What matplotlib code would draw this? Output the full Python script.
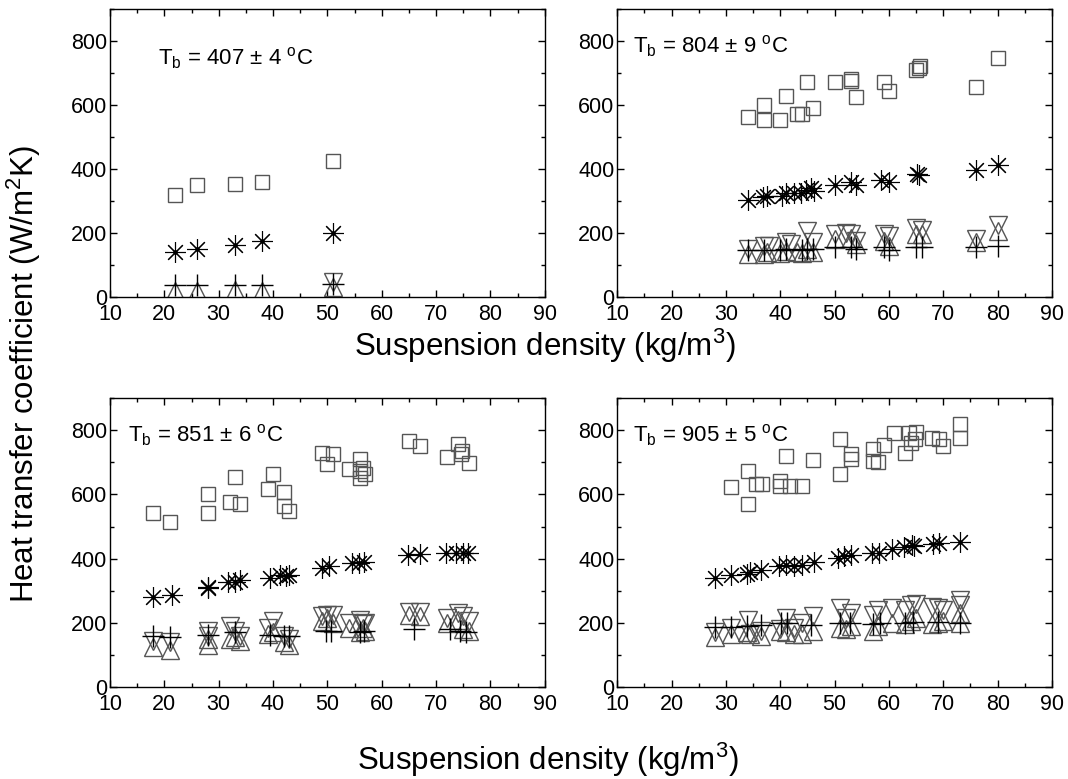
import matplotlib
matplotlib.use("Agg")
import matplotlib.pyplot as plt
from matplotlib.ticker import MultipleLocator

plt.rcParams["font.family"] = ["Liberation Sans", "DejaVu Sans"]
plt.rcParams["mathtext.fontset"] = "custom"
plt.rcParams["mathtext.rm"] = "Liberation Sans"
plt.rcParams["mathtext.it"] = "Liberation Sans:italic"

GRAY = "#555555"

# ---- panel 1: Tb = 407 +/- 4 C
p1_sq_x = [22, 26, 33, 38, 51]
p1_sq_y = [318, 348, 352, 358, 425]
p1_ast_x = [22, 26, 33, 38, 51]
p1_ast_y = [140, 150, 163, 173, 198]
p1_plus_x = [22, 26, 33, 38, 51]
p1_plus_y = [37, 37, 37, 37, 40]
p1_up_x = [22, 26, 33, 38, 51]
p1_up_y = [17, 17, 22, 17, 30]
p1_dn_x = [51]
p1_dn_y = [45]

# ---- panel 2: Tb = 804 +/- 9 C
p2_sq_x = [34, 37, 37, 40, 41, 43, 44, 45, 46, 50, 53, 53, 54, 59, 60, 65, 65.8, 65.5, 76, 80]
p2_sq_y = [561, 600, 551, 551, 626, 572, 571, 671, 589, 671, 680, 675, 624, 671, 644, 707, 720, 714, 655, 746]
p2_ast_x = [34, 36.8, 37.5, 40.3, 41, 42.5, 43.8, 44.7, 45.6, 46.2, 50, 53.1, 54, 58.6, 60, 65.1, 65.6, 76, 80]
p2_ast_y = [303, 313, 316, 316, 323, 325, 323, 333, 339, 331, 350, 357, 348, 366, 359, 384, 381, 397, 410]
p2_plus_x = [34, 37, 40, 41, 44, 45, 46, 50, 53, 54, 59, 60, 65, 66, 76, 80]
p2_plus_y = [145, 145, 145, 148, 145, 148, 148, 157, 155, 150, 155, 145, 157, 157, 157, 160]
p2_up_x = [34, 37, 37.5, 40, 41, 43, 44, 45, 46, 50, 53, 54, 59, 60, 65, 66, 76, 80]
p2_up_y = [135, 135, 140, 138, 142, 140, 138, 150, 140, 180, 185, 165, 175, 160, 195, 195, 170, 205]
p2_dn_x = [34, 37, 38, 41, 42, 45, 46, 50, 52, 53, 54, 59, 60, 65, 66, 76, 80]
p2_dn_y = [150, 160, 160, 170, 165, 205, 170, 195, 200, 195, 175, 195, 190, 215, 210, 180, 225]

# ---- panel 3: Tb = 851 +/- 6 C
p3_sq_x = [18, 21, 28, 28, 32, 33, 34, 39, 40, 42, 42, 43, 49, 50, 51, 54, 56, 56, 56.6, 56.9, 56, 65, 67, 72, 74, 74.6, 74.8, 76]
p3_sq_y = [543, 515, 602, 541, 576, 655, 569, 618, 662, 608, 563, 548, 730, 694, 725, 678, 709, 652, 683, 662, 672, 765, 751, 715, 756, 725, 735, 697]
p3_ast_x = [18, 21.5, 28, 28, 31.8, 33, 34, 39.4, 41.2, 42.4, 43, 49.1, 50.3, 54.6, 55.8, 56.7, 64.8, 67, 71.9, 73.7, 74.9, 75.9]
p3_ast_y = [282, 288, 308, 313, 326, 327, 333, 340, 350, 346, 350, 371, 377, 385, 387, 390, 410, 414, 417, 419, 419, 417]
p3_plus_x = [18, 21, 28, 33, 39.4, 42, 43, 49.8, 50.6, 56, 56.7, 66, 72.5, 74.4, 75.6]
p3_plus_y = [159, 157, 163, 170, 163, 159, 159, 176, 174, 173, 176, 180, 180, 176, 173]
p3_up_x = [18, 21, 28, 28, 32, 33, 34, 39, 40, 42, 43, 49, 50, 51, 54, 56, 56.5, 57, 65, 67, 72, 74, 75, 76]
p3_up_y = [125, 115, 130, 150, 150, 155, 145, 165, 170, 140, 130, 205, 215, 200, 185, 170, 185, 175, 225, 220, 200, 210, 180, 175]
p3_dn_x = [18, 21, 28, 28, 32, 33, 34, 39, 40, 42, 43, 49, 50, 51, 54, 56, 56.5, 57, 65, 67, 72, 74, 75, 76]
p3_dn_y = [145, 140, 175, 160, 190, 175, 160, 185, 205, 160, 150, 220, 225, 225, 200, 210, 195, 200, 235, 235, 215, 230, 220, 205]

# ---- panel 4: Tb = 905 +/- 5 C
p4_sq_x = [31, 34, 34, 35.6, 36.6, 40, 40, 41, 41.8, 44, 46, 51, 51, 53, 53, 57, 57, 58, 59, 61, 63, 63.6, 64, 64.8, 65, 68, 69.2, 70, 73, 73]
p4_sq_y = [623, 673, 569, 633, 633, 642, 626, 720, 626, 625, 707, 774, 662, 725, 709, 741, 705, 702, 753, 790, 730, 792, 761, 771, 794, 777, 771, 750, 819, 777]
p4_ast_x = [28, 30.9, 33.8, 34.4, 36.5, 39.8, 41, 42.5, 44, 46.2, 50.6, 51.7, 53.1, 56.9, 58.1, 60.5, 62.8, 64.2, 64.6, 68.1, 69.2, 73]
p4_ast_y = [340, 350, 353, 357, 365, 376, 381, 378, 381, 391, 402, 407, 412, 417, 419, 429, 437, 443, 440, 446, 448, 453]
p4_plus_x = [28, 30.9, 33.9, 36.5, 40.2, 41.3, 45.6, 51, 52.9, 57.1, 58.3, 63, 64.5, 69.1, 73]
p4_plus_y = [188, 188, 190, 194, 198, 198, 194, 198, 198, 196, 198, 198, 203, 203, 201]
p4_up_x = [28, 31, 33.8, 34.5, 36.5, 40, 41, 42.5, 44, 46, 51, 52, 53, 57, 58, 60.5, 63, 64, 65, 68, 69, 70, 73, 73]
p4_up_y = [155, 165, 170, 165, 160, 175, 170, 165, 165, 175, 185, 180, 190, 175, 190, 200, 195, 205, 215, 195, 200, 205, 230, 200]
p4_dn_x = [28, 31, 34, 34.5, 36.5, 40, 41, 42.5, 44, 46, 51, 52, 53, 57, 58, 60.5, 63, 64, 65, 68, 69, 70, 73, 73]
p4_dn_y = [170, 185, 210, 165, 175, 180, 215, 185, 200, 220, 245, 215, 230, 225, 240, 245, 240, 255, 260, 250, 245, 240, 270, 255]

panels = [
    ("407", "4", p1_sq_x, p1_sq_y, p1_ast_x, p1_ast_y, p1_plus_x, p1_plus_y, p1_up_x, p1_up_y, p1_dn_x, p1_dn_y),
    ("804", "9", p2_sq_x, p2_sq_y, p2_ast_x, p2_ast_y, p2_plus_x, p2_plus_y, p2_up_x, p2_up_y, p2_dn_x, p2_dn_y),
    ("851", "6", p3_sq_x, p3_sq_y, p3_ast_x, p3_ast_y, p3_plus_x, p3_plus_y, p3_up_x, p3_up_y, p3_dn_x, p3_dn_y),
    ("905", "5", p4_sq_x, p4_sq_y, p4_ast_x, p4_ast_y, p4_plus_x, p4_plus_y, p4_up_x, p4_up_y, p4_dn_x, p4_dn_y),
]

fig = plt.figure(figsize=(10.68, 7.79), dpi=100)
rects = [
    [0.103, 0.619, 0.407, 0.370],
    [0.578, 0.619, 0.407, 0.370],
    [0.103, 0.118, 0.407, 0.371],
    [0.578, 0.118, 0.407, 0.371],
]
# where the "T_b = ..." label sits, in axes fractions
label_pos = [(0.110, 0.806), (0.037, 0.847), (0.041, 0.849), (0.037, 0.849)]

for rect, lpos, (tb, err, sqx, sqy, asx, asy, plx, ply, upx, upy, dnx, dny) in zip(rects, label_pos, panels):
    ax = fig.add_axes(rect)
    ax.plot(upx, upy, ls="none", marker="^", ms=13, mfc="none", mec=GRAY, mew=1.0)
    ax.plot(dnx, dny, ls="none", marker="v", ms=13, mfc="none", mec=GRAY, mew=1.0)
    ax.plot(plx, ply, ls="none", marker="+", ms=16, mec="black", mew=1.0)
    ax.plot(sqx, sqy, ls="none", marker="s", ms=10.5, mfc="none", mec=GRAY, mew=1.0)
    ax.plot(asx, asy, ls="none", marker=(8, 2, 0), ms=15, mec="black", mew=0.8)
    ax.plot(asx, asy, ls="none", marker="o", ms=2.2, mfc="black", mec="black")

    ax.set_xlim(10, 90)
    ax.set_ylim(0, 900)
    ax.xaxis.set_major_locator(MultipleLocator(10))
    ax.xaxis.set_minor_locator(MultipleLocator(5))
    ax.yaxis.set_major_locator(MultipleLocator(200))
    ax.yaxis.set_minor_locator(MultipleLocator(100))
    ax.tick_params(which="both", direction="in", top=True, right=True, labelsize=15.5, width=1.0)
    ax.tick_params(which="major", length=5)
    ax.tick_params(which="minor", length=3)
    ax.tick_params(axis="y", pad=2)
    ax.tick_params(axis="x", pad=5)
    for s in ax.spines.values():
        s.set_linewidth(1.0)

    ax.text(lpos[0], lpos[1],
            r"T$_{\rm b}$ = " + tb + " \u00b1 " + err + r" $^{\rm o}$C",
            transform=ax.transAxes, fontsize=16, va="baseline", ha="left")

fig.text(0.51, 0.556, r"Suspension density (kg/m$^{3}$)", ha="center", va="center", fontsize=22.5)
fig.text(0.513, 0.024, r"Suspension density (kg/m$^{3}$)", ha="center", va="center", fontsize=22.5)
fig.text(0.022, 0.52, r"Heat transfer coefficient (W/m$^{2}$K)", ha="center", va="center",
         rotation=90, fontsize=22.5)

fig.savefig("out.png", dpi=100)
